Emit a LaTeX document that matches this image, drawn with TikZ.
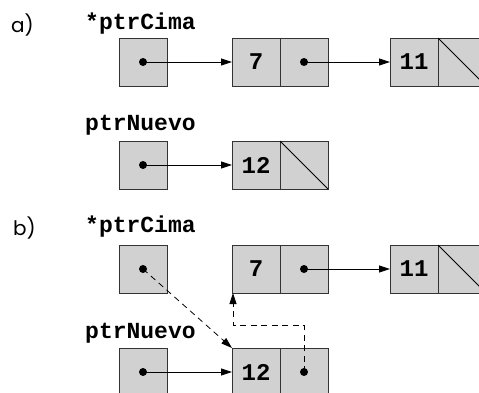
\documentclass[tikz,border=0pt]{standalone}
\usepackage{fontspec}
\setmonofont{Liberation Mono}
\setsansfont{Poppins}
\usetikzlibrary{arrows.meta}
\tikzset{
  cell/.style={draw=black!80, line width=0.8pt, fill=black!18, minimum size=48pt, inner sep=0pt, outer sep=0pt},
  numtext/.style={font=\fontsize{24}{24}\selectfont\ttfamily\bfseries},
  varlabel/.style={anchor=base west, inner sep=0pt, font=\fontsize{23}{23}\selectfont\ttfamily\bfseries},
  partlabel/.style={anchor=west, inner sep=0pt, font=\fontsize{20}{20}\selectfont\sffamily},
  ptrdot/.style={circle, fill=black, inner sep=0pt, minimum size=8pt},
  ptrarrow/.style={line width=0.8pt, -{Triangle[length=11pt,width=7pt]}},
  dasharrow/.style={line width=0.8pt, dash pattern=on 6pt off 4.5pt, -{Triangle[length=11pt,width=7pt]}},
  nullline/.style={line width=0.8pt}
}
\begin{document}
\begin{tikzpicture}[x=1pt,y=-1pt]
\clip (0,0) rectangle (479,392);
% ---------- a) ----------
\node[partlabel] (la) at (11,25) {a)};
\node[varlabel] (cimaA) at (85,29) {*ptrCima};
\node[cell] (pA) at (143,62) {};
\node[ptrdot] (pAd) at (pA.center) {};
\node[cell,numtext] (n7A) at (256,62) {7};
\node[cell] (n7Ap) at (304,62) {};
\node[ptrdot] (n7Ad) at (n7Ap.center) {};
\node[cell,numtext] (n11A) at (414,62) {11};
\node[cell] (n11Ap) at (462,62) {};
\draw[nullline] (n11Ap.north west) -- (n11Ap.south east);
\draw[ptrarrow] (pAd.center) -- (n7A.west);
\draw[ptrarrow] (n7Ad.center) -- (n11A.west);

\node[varlabel] (nuevoA) at (85,130) {ptrNuevo};
\node[cell] (qA) at (143,165) {};
\node[ptrdot] (qAd) at (qA.center) {};
\node[cell,numtext] (n12A) at (256,165) {12};
\node[cell] (n12Ap) at (304,165) {};
\draw[nullline] (n12Ap.north west) -- (n12Ap.south east);
\draw[ptrarrow] (qAd.center) -- (n12A.west);

% ---------- b) ----------
\node[partlabel] (lb) at (13,228) {b)};
\node[varlabel] (cimaB) at (85,232) {*ptrCima};
\node[cell] (pB) at (143,269) {};
\node[ptrdot] (pBd) at (pB.center) {};
\node[cell,numtext] (n7B) at (256,269) {7};
\node[cell] (n7Bp) at (304,269) {};
\node[ptrdot] (n7Bd) at (n7Bp.center) {};
\node[cell,numtext] (n11B) at (414,269) {11};
\node[cell] (n11Bp) at (462,269) {};
\draw[nullline] (n11Bp.north west) -- (n11Bp.south east);
\draw[ptrarrow] (n7Bd.center) -- (n11B.west);

\node[varlabel] (nuevoB) at (85,338) {ptrNuevo};
\node[cell] (qB) at (143,372) {};
\node[ptrdot] (qBd) at (qB.center) {};
\node[cell,numtext] (n12B) at (256,372) {12};
\node[cell] (n12Bp) at (304,372) {};
\node[ptrdot] (n12Bd) at (n12Bp.center) {};
\draw[ptrarrow] (qBd.center) -- (n12B.west);
\draw[dasharrow] (pBd.center) -- (n12B.north west);
\coordinate (bendR) at (n12Bd |- 0,325);
\coordinate (bendL) at ([xshift=1pt]n7B.south west |- 0,325);
\draw[dasharrow] (n12Bd.center) -- (bendR) -- (bendL) -- ([xshift=1pt]n7B.south west);
\end{tikzpicture}
\end{document}
